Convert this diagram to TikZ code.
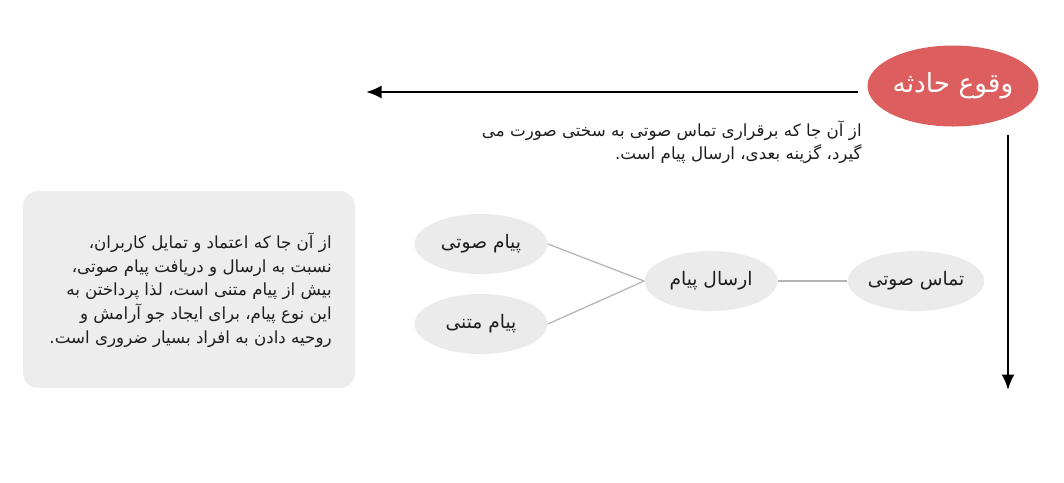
\documentclass[tikz,border=0pt]{standalone}
\usepackage{fontspec}
\usepackage{tikz}
\usetikzlibrary{shapes,arrows.meta}
\newfontfamily\fa[Script=Arabic]{DejaVu Sans}
\TeXXeTstate=1
\definecolor{eventred}{HTML}{DD5E5E}
\definecolor{bubblegray}{HTML}{EBEBEB}
\definecolor{boxgray}{HTML}{EDEDED}
\definecolor{linkgray}{HTML}{B4B4B4}
\definecolor{textdark}{HTML}{1E1E1E}

\begin{document}
\begin{tikzpicture}[x=0.2mm,y=-0.2mm,
  bubble/.style={ellipse,fill=bubblegray,inner sep=0pt,minimum width=26.6mm,minimum height=12mm,
    text=textdark,font=\fontsize{10.6}{12}\selectfont\fa},
  link/.style={draw=linkgray,line width=0.25mm},
  flow/.style={line width=0.45mm,-{Latex[length=3.1mm,width=2.6mm]}},
  note/.style={align=right,inner sep=0pt,text=textdark,font=\fontsize{9.5}{13.5}\selectfont\fa}]

  \useasboundingbox (0,0) rectangle (1064,482);

  % event and the two arrows
  \begin{scope}
  \node[ellipse,fill=eventred,inner sep=0pt,minimum width=34.2mm,minimum height=16.2mm,
    text=white,font=\fontsize{15}{18}\selectfont\fa] (event) at (953,86) {\beginR وقوع حادثه\endR};
  \coordinate (hstart) at (858,92);
  \coordinate (hend) at (366,92);
  \coordinate (vstart) at (1008,135);
  \coordinate (vend) at (1008,390);
  \draw[flow] (hstart) -- (hend);
  \draw[flow] (vstart) -- (vend);
  \node[note,anchor=north east] (reason) at (862,120)
    {\beginR از آن جا که برقراری تماس صوتی به سختی صورت می\endR\\
     \beginR گیرد، گزینه بعدی، ارسال پیام است.\endR};
  \end{scope}

  % side note
  \begin{scope}
  \fill[boxgray,rounded corners=3mm] (23,191) rectangle (355,388);
  \node[note,anchor=east] (trust) at (332,290)
    {\beginR از آن جا که اعتماد و تمایل کاربران،\endR\\
     \beginR نسبت به ارسال و دریافت پیام صوتی،\endR\\
     \beginR بیش از پیام متنی است، لذا پرداختن به\endR\\
     \beginR این نوع پیام، برای ایجاد جو آرامش و\endR\\
     \beginR روحیه دادن به افراد بسیار ضروری است.\endR};
  \end{scope}

  % message bubbles
  \begin{scope}
  \node[bubble] (voicemsg) at (481,244) {\beginR پیام صوتی\endR};
  \node[bubble] (textmsg)  at (481,324) {\beginR پیام متنی\endR};
  \node[bubble] (send)     at (711,281) {\beginR ارسال پیام\endR};
  \node[bubble] (call)     at (916,281) {\beginR تماس صوتی\endR};
  \draw[link] (voicemsg.east) -- (send.west);
  \draw[link] (textmsg.east) -- (send.west);
  \draw[link] (send.east) -- (call.west);
  \end{scope}
\end{tikzpicture}
\end{document}
